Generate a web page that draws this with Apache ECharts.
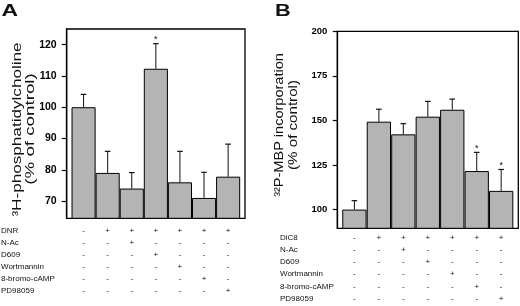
<!DOCTYPE html>
<html>
<head>
<meta charset="utf-8">
<script src="https://cdn.jsdelivr.net/npm/echarts@6/dist/echarts.min.js"></script>
<style>html,body{margin:0;padding:0;background:#fff;}#c{width:520px;height:306px;}</style>
</head>
<body>
<div id="c"></div>
<script>
// ---- data ----
const positions = [0, 1, 2, 3, 4, 5, 6];
const valuesA = [100, 79, 74, 112.3, 76, 71, 77.8];
const errorsA = [4.1, 6.9, 5.1, 8, 9.9, 8.2, 10.4];
const sigA = [0, 0, 0, 1, 0, 0, 0];
const valuesB = [100, 149.3, 142.2, 152.1, 156, 121.6, 110.5];
const errorsB = [5, 7, 6, 8.6, 6, 10.5, 12];
const sigB = [0, 0, 0, 0, 0, 1, 1];
const ticksA = [70, 80, 90, 100, 110, 120];
const ticksB = [100, 125, 150, 175, 200];
const rowNamesA = ['DNR', 'N-Ac', 'D609', 'Wortmannin', '8-bromo-cAMP', 'PD98059'];
const rowNamesB = ['DiC8', 'N-Ac', 'D609', 'Wortmannin', '8-bromo-cAMP', 'PD98059'];
const signsA = [
  ['-', '+', '+', '+', '+', '+', '+'],
  ['-', '-', '+', '-', '-', '-', '-'],
  ['-', '-', '-', '+', '-', '-', '-'],
  ['-', '-', '-', '-', '+', '-', '-'],
  ['-', '-', '-', '-', '-', '+', '-'],
  ['-', '-', '-', '-', '-', '-', '+']
];
const signsB = [
  ['-', '+', '+', '+', '+', '+', '+'],
  ['-', '-', '+', '-', '-', '-', '-'],
  ['-', '-', '-', '+', '-', '-', '-'],
  ['-', '-', '-', '-', '+', '-', '-'],
  ['-', '-', '-', '-', '-', '+', '-'],
  ['-', '-', '-', '-', '-', '-', '+']
];

// ---- layout ----
const FONT = '"Liberation Sans", Arial, sans-serif';
const grids = [
  { left: 66.7, top: 29, right: 275, bottom: 87.7, show: true, borderColor: '#000', borderWidth: 1.3, backgroundColor: 'transparent', outerBoundsMode: 'none' },
  { left: 337.3, top: 31.3, right: 1.7, bottom: 77.7, show: true, borderColor: '#000', borderWidth: 1.3, backgroundColor: 'transparent', outerBoundsMode: 'none' }
];
const rowOffsets = [
  [12.2, 24.2, 36.2, 48.2, 60.2, 72.2],
  [9.2, 21.4, 33.6, 45.8, 58, 70.2]
];
const nameGaps = [65.7, 57.3];

const xAxes = [];
const yAxes = [];
[0, 1].forEach(g => {
  xAxes.push({ type: 'value', gridIndex: g, min: -0.7, max: 6.7, show: false, axisLine: { onZero: false } });
});
const rowsByGrid = [[rowNamesA, signsA], [rowNamesB, signsB]];
[0, 1].forEach(g => {
  const [names, signs] = rowsByGrid[g];
  names.forEach((nm, r) => {
    xAxes.push({
      type: 'value', gridIndex: g, min: -0.7, max: 6.7, position: 'bottom',
      offset: rowOffsets[g][r],
      name: nm, nameLocation: 'start', nameGap: nameGaps[g],
      nameTextStyle: { fontFamily: FONT, fontSize: 8, color: '#111', align: 'left', verticalAlign: 'middle' },
      axisLine: { show: false, onZero: false }, axisTick: { show: false }, splitLine: { show: false },
      axisLabel: {
        customValues: positions, margin: 0, verticalAlign: 'middle',
        fontFamily: FONT, fontSize: 8, color: '#111',
        formatter: v => signs[r][Math.round(v)]
      }
    });
  });
});
yAxes.push({
  type: 'value', gridIndex: 0, min: 64.5, max: 125, position: 'left',
  axisLine: { show: true, onZero: false, lineStyle: { color: '#000', width: 1.3 } }, splitLine: { show: false },
  axisTick: { show: true, inside: false, customValues: ticksA, length: 5, lineStyle: { color: '#000', width: 1.2 } },
  axisLabel: { customValues: ticksA, margin: 10, fontFamily: FONT, fontSize: 10.5, fontWeight: 'bold', color: '#000' }
});
yAxes.push({
  type: 'value', gridIndex: 1, min: 89.5, max: 200, position: 'left',
  axisLine: { show: true, onZero: false, lineStyle: { color: '#000', width: 1.3 } }, splitLine: { show: false },
  axisTick: { show: true, inside: false, customValues: ticksB, length: 4.5, lineStyle: { color: '#000', width: 1.2 } },
  axisLabel: { customValues: ticksB, margin: 10, fontFamily: FONT, fontSize: 9.5, fontWeight: 'bold', color: '#000' }
});

function barSeries(g, vals, w) {
  return {
    type: 'bar', xAxisIndex: g, yAxisIndex: g, barWidth: w,
    data: vals.map((v, i) => [positions[i], v]),
    itemStyle: { color: '#b4b4b4', borderColor: '#000', borderWidth: 1 },
    silent: true
  };
}
function errSeries(g, vals, errs, sig) {
  return {
    type: 'custom', xAxisIndex: g, yAxisIndex: g, silent: true, z: 5,
    data: vals.map((v, i) => [positions[i], v, errs[i], sig[i]]),
    renderItem: (params, api) => {
      const x = api.value(0), v = api.value(1), e = api.value(2), s = api.value(3);
      const p0 = api.coord([x, v]);
      const p1 = api.coord([x, v + e]);
      const children = [
        { type: 'line', shape: { x1: p0[0], y1: p0[1], x2: p1[0], y2: p1[1] }, style: { stroke: '#111', lineWidth: 1 } },
        { type: 'line', shape: { x1: p1[0] - 2.8, y1: p1[1], x2: p1[0] + 2.8, y2: p1[1] }, style: { stroke: '#111', lineWidth: 1.2 } }
      ];
      if (s) {
        children.push({ type: 'text', x: p1[0], y: p1[1] - 4, style: { text: '*', fontFamily: FONT, fontSize: 9, fill: '#111', align: 'center', verticalAlign: 'middle' } });
      }
      return { type: 'group', children };
    }
  };
}

function txt(text, x, y, size, sx, rot, weight) {
  return {
    type: 'text', x, y, rotation: rot, scaleX: sx, scaleY: 1,
    style: { text, fontFamily: FONT, fontSize: size, fontWeight: weight, fill: '#111',
      align: rot ? 'center' : 'left', verticalAlign: 'middle',
      textAlign: rot ? 'center' : 'left', textVerticalAlign: 'middle' }
  };
}

const chart = echarts.init(document.getElementById('c'), null, { renderer: 'canvas' });
chart.setOption({
  animation: false,
  backgroundColor: '#fff',
  grid: grids,
  xAxis: xAxes,
  yAxis: yAxes,
  series: [
    barSeries(0, valuesA, 24.1),
    barSeries(1, valuesB, 24.3),
    errSeries(0, valuesA, errorsA, sigA),
    errSeries(1, valuesB, errorsB, sigB)
  ],
  graphic: [
    txt('A', 1.5, 11.2, 17, 1.35, 0, 'bold'),
    txt('B', 275, 11, 17, 1.28, 0, 'bold'),
    txt('³H-phosphatidylcholine', 17.3, 129.5, 12.5, 1.37, Math.PI / 2, 'normal'),
    txt('(% of control)', 31, 129, 12.5, 1.5, Math.PI / 2, 'normal'),
    txt('³²P-MBP incorporation', 280, 125, 12, 1.21, Math.PI / 2, 'normal'),
    txt('(% of control)', 294, 125, 12, 1.26, Math.PI / 2, 'normal')
  ]
});
</script>
</body>
</html>
